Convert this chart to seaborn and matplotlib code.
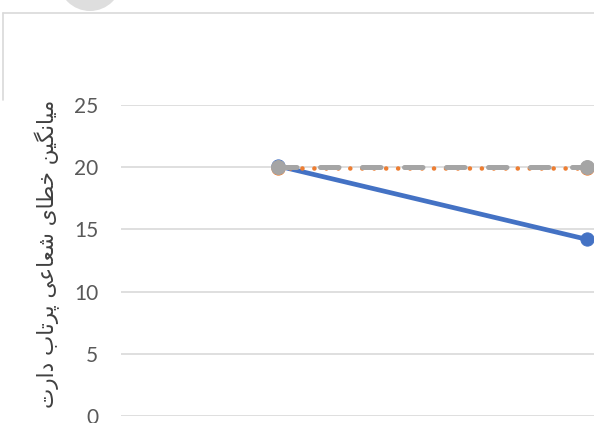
import numpy as np
import pandas as pd
import matplotlib
matplotlib.use("Agg")
import matplotlib.pyplot as plt
from matplotlib.lines import Line2D
from matplotlib.patches import Ellipse
import seaborn as sns

stages = ["1", "2"]
blue_vals = [20.1, 14.2]
orange_vals = [19.9, 19.9]
gray_vals = [20.0, 20.0]
y_ticks = [0, 5, 10, 15, 20, 25]
y_label = "میانگین خطای شعاعی پرتاب دارت"

# minimal arabic/persian shaping: isolated, final, initial, medial forms
FORMS = {
    'م': '\uFEE1\uFEE2\uFEE3\uFEE4',
    'ی': '\uFBFC\uFBFD\uFBFE\uFBFF',
    'ا': '\uFE8D\uFE8E',
    'ن': '\uFEE5\uFEE6\uFEE7\uFEE8',
    'گ': '\uFB92\uFB93\uFB94\uFB95',
    'خ': '\uFEA5\uFEA6\uFEA7\uFEA8',
    'ط': '\uFEC1\uFEC2\uFEC3\uFEC4',
    'ش': '\uFEB5\uFEB6\uFEB7\uFEB8',
    'ع': '\uFEC9\uFECA\uFECB\uFECC',
    'پ': '\uFB56\uFB57\uFB58\uFB59',
    'ر': '\uFEAD\uFEAE',
    'ت': '\uFE95\uFE96\uFE97\uFE98',
    'ب': '\uFE8F\uFE90\uFE91\uFE92',
    'د': '\uFEA9\uFEAA',
}


def shape(text):
    out = []
    for i, ch in enumerate(text):
        f = FORMS.get(ch)
        if f is None:
            out.append(ch)
            continue
        prev = text[i - 1] if i > 0 else ''
        nxt = text[i + 1] if i + 1 < len(text) else ''
        joins_prev = prev in FORMS and len(FORMS[prev]) == 4
        joins_next = nxt in FORMS and len(f) == 4
        out.append(f[(1 if joins_prev else 0) + (2 if joins_next else 0)])
    return ''.join(reversed(out))


sns.set_theme(style="white")
plt.rcParams['font.family'] = ['Lato', 'DejaVu Sans']

W, H = 594, 423
fig = plt.figure(figsize=(W / 100, H / 100), dpi=100)
ax = fig.add_axes([121 / W, 7 / H, (W - 121) / W, 311 / H])

x = list(range(len(stages)))
df = pd.DataFrame({"x": x, "blue": blue_vals, "orange": orange_vals, "gray": gray_vals})

sns.lineplot(data=df, x="x", y="blue", ax=ax, color="#4472C4", lw=3.4,
             marker="o", markersize=9.5, markeredgecolor="#4472C4",
             clip_on=False, zorder=3)
sns.lineplot(data=df, x="x", y="orange", ax=ax, color="#ED7D31", lw=3.3,
             linestyle=(0, (0.01, 2.6)), dash_capstyle="round",
             marker="o", markersize=9.5, markeredgecolor="#ED7D31",
             clip_on=False, zorder=4)
sns.lineplot(data=df, x="x", y="gray", ax=ax, color="#A5A5A5", lw=3.6,
             linestyle=(0, (3.7, 4.7)), dash_capstyle="round",
             marker="o", markersize=10, markeredgecolor="#A5A5A5",
             clip_on=False, zorder=5)

ax.set_xlim(-0.508, 1.023)
ax.set_ylim(0, 25)
ax.set_yticks(y_ticks)
ax.set_yticklabels([str(t) for t in y_ticks], color="#595959", fontsize=15)
ax.set_xticks([])
ax.tick_params(axis="y", length=0, pad=16.5)
for t in y_ticks:
    ax.axhline(t, color="#D9D9D9", lw=1.2, zorder=1)
for s in ax.spines.values():
    s.set_visible(False)
ax.set_xlabel("")
ax.set_ylabel("")
ax.patch.set_alpha(0)

fig.text(47 / W, 1 - 254 / H, shape(y_label), rotation=90, ha="center", va="center",
         fontsize=15.5, color="#404040", family=["DejaVu Sans"])

# chart frame and the grey handle at the top
fig.add_artist(Line2D([3 / W, 1], [1 - 13 / H, 1 - 13 / H], color="#D9D9D9", lw=1.2))
fig.add_artist(Line2D([3 / W, 3 / W], [1 - 13 / H, 1 - 100 / H], color="#D9D9D9", lw=1.2))
fig.add_artist(Ellipse((90 / W, 1 + 20.7 / H), 2 * 31.7 / W, 2 * 31.7 / H,
                       color="#DEDEDE", lw=0))

fig.savefig("out.png", dpi=100)
